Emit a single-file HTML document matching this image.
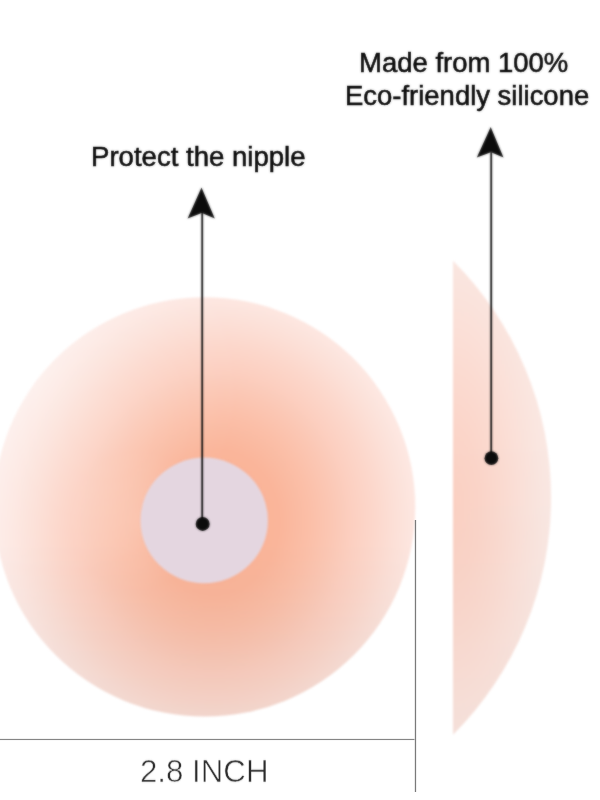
<!DOCTYPE html>
<html>
<head>
<meta charset="utf-8">
<style>
html,body{margin:0;padding:0;background:#fff;}
body{width:600px;height:800px;position:relative;overflow:hidden;font-family:"Liberation Sans",sans-serif;}
svg{position:absolute;left:0;top:0;}
.t{position:absolute;white-space:nowrap;color:#0a0a0a;font-size:27px;line-height:30px;transform-origin:0 0;filter:url(#soft);-webkit-text-stroke:0.55px #0a0a0a;}
</style>
</head>
<body>
<svg width="600" height="800" viewBox="0 0 600 800">
  <defs>
    <radialGradient id="g1" gradientUnits="userSpaceOnUse" cx="0" cy="0" r="1" gradientTransform="translate(214 522) scale(218 242)">
      <stop offset="0" stop-color="#fab395"/>
      <stop offset="0.30" stop-color="#fab59a"/>
      <stop offset="0.44" stop-color="#fbbfa8"/>
      <stop offset="0.54" stop-color="#fbc7b4"/>
      <stop offset="0.63" stop-color="#fccfc0"/>
      <stop offset="0.73" stop-color="#fcd7cb"/>
      <stop offset="0.82" stop-color="#fcdfd6"/>
      <stop offset="0.92" stop-color="#fde7e1"/>
      <stop offset="1" stop-color="#fdece8"/>
    </radialGradient>
    <linearGradient id="sh" gradientUnits="userSpaceOnUse" x1="0" y1="540" x2="0" y2="720">
      <stop offset="0" stop-color="#000" stop-opacity="0"/>
      <stop offset="0.55" stop-color="#000" stop-opacity="0.028"/>
      <stop offset="1" stop-color="#000" stop-opacity="0.04"/>
    </linearGradient>
    <radialGradient id="hl2" gradientUnits="userSpaceOnUse" cx="138" cy="520" r="70">
      <stop offset="0" stop-color="#fff" stop-opacity="0.14"/>
      <stop offset="0.5" stop-color="#fff" stop-opacity="0.08"/>
      <stop offset="1" stop-color="#fff" stop-opacity="0"/>
    </radialGradient>
    <radialGradient id="hl" gradientUnits="userSpaceOnUse" cx="40" cy="380" r="200">
      <stop offset="0" stop-color="#fff" stop-opacity="0.25"/>
      <stop offset="0.5" stop-color="#fff" stop-opacity="0.12"/>
      <stop offset="1" stop-color="#fff" stop-opacity="0"/>
    </radialGradient>
    <radialGradient id="g2" gradientUnits="userSpaceOnUse" cx="0" cy="0" r="1" gradientTransform="translate(453 505) scale(110 300)">
      <stop offset="0" stop-color="#fcd1c3"/>
      <stop offset="0.25" stop-color="#fbd5c9"/>
      <stop offset="0.45" stop-color="#fbdbd1"/>
      <stop offset="0.6" stop-color="#fbe0d8"/>
      <stop offset="0.8" stop-color="#fae6e0"/>
      <stop offset="1" stop-color="#faebe7"/>
    </radialGradient>
    <linearGradient id="sh2" gradientUnits="userSpaceOnUse" x1="0" y1="420" x2="0" y2="736">
      <stop offset="0" stop-color="#000" stop-opacity="0"/>
      <stop offset="1" stop-color="#000" stop-opacity="0.022"/>
    </linearGradient>
    <filter id="b1" x="-5%" y="-5%" width="110%" height="110%" color-interpolation-filters="sRGB"><feGaussianBlur stdDeviation="1"/></filter>
    <filter id="b3" x="-5%" y="-5%" width="110%" height="110%" color-interpolation-filters="sRGB"><feGaussianBlur stdDeviation="0.8" result="b"/><feComposite in="b" in2="SourceGraphic" operator="arithmetic" k1="0" k2="0.65" k3="0.35" k4="0"/></filter>
    <filter id="soft" x="-5%" y="-20%" width="110%" height="140%" color-interpolation-filters="sRGB"><feGaussianBlur stdDeviation="0.8" result="b"/><feComposite in="b" in2="SourceGraphic" operator="arithmetic" k1="0" k2="0.4" k3="0.6" k4="0"/></filter>
    <filter id="soft2" x="-5%" y="-20%" width="110%" height="140%" color-interpolation-filters="sRGB"><feGaussianBlur stdDeviation="0.8" result="b"/><feComposite in="b" in2="SourceGraphic" operator="arithmetic" k1="0" k2="0.25" k3="0.75" k4="0"/></filter>
    <filter id="b4" filterUnits="userSpaceOnUse" x="440" y="240" width="130" height="520" color-interpolation-filters="sRGB"><feGaussianBlur stdDeviation="0.8"/></filter>
    <filter id="b2" x="-20%" y="-20%" width="140%" height="140%" color-interpolation-filters="sRGB"><feGaussianBlur stdDeviation="0.8"/></filter>
    <clipPath id="cp"><rect x="453" y="0" width="147" height="800"/></clipPath>
    <clipPath id="cc"><ellipse cx="204.7" cy="506.9" rx="210.6" ry="209.7"/></clipPath>
  </defs>
  <!-- big circle -->
  <g filter="url(#b1)">
    <ellipse cx="204.7" cy="506.9" rx="210.6" ry="209.7" fill="url(#g1)"/>
    <rect x="-10" y="280" width="440" height="450" fill="url(#hl)" clip-path="url(#cc)"/>
    <rect x="-10" y="280" width="440" height="450" fill="url(#sh)" clip-path="url(#cc)"/>
    <circle cx="138" cy="520" r="70" fill="url(#hl2)"/>
  </g>
  <!-- inner circle -->
  <ellipse cx="204.2" cy="520.4" rx="63.7" ry="62.8" fill="#e4d6e0" filter="url(#b2)"/>
  <!-- side view -->
  <g filter="url(#b4)">
    <g clip-path="url(#cp)"><circle cx="215.8" cy="497.7" r="335.3" fill="url(#g2)"/><circle cx="215.8" cy="497.7" r="335.3" fill="url(#sh2)"/></g>
  </g>
  <!-- dimension lines -->
  <rect x="0" y="738.9" width="414.5" height="1.15" fill="#858585"/>
  <rect x="414.85" y="520" width="1.25" height="272" fill="#7a7a7a"/>
  <!-- arrows -->
  <g fill="#0a0a0a" filter="url(#b3)">
    <rect x="201.3" y="212" width="1.8" height="312"/>
    <rect x="490.3" y="152" width="1.8" height="306"/>
  </g>
  <g fill="#0c0c0c" filter="url(#b3)">
    <path d="M201.5 187.5 L214.8 218.5 L201.8 213 L187.6 218.5 Z"/>
    <circle cx="202.7" cy="523.9" r="7"/>
    <path d="M490.7 127 L503.5 157.6 L491 152.2 L476.8 157.6 Z"/>
    <circle cx="491.4" cy="458.2" r="6.9"/>
  </g>
</svg>
<div class="t" style="left:90.7px;top:142.2px;transform:scaleX(1.021);">Protect the nipple</div>
<div class="t" style="left:359px;top:47.7px;transform:scaleX(1.018);">Made from 100%</div>
<div class="t" style="left:345.2px;top:80.7px;transform:scaleX(1.017);">Eco-friendly silicone</div>
<div class="t" style="left:140px;top:753.5px;font-size:31.4px;line-height:36px;color:#2c2c2c;-webkit-text-stroke:0.55px #fff;filter:url(#soft2);transform:scaleX(0.995);">2.8 INCH</div>
</body>
</html>
